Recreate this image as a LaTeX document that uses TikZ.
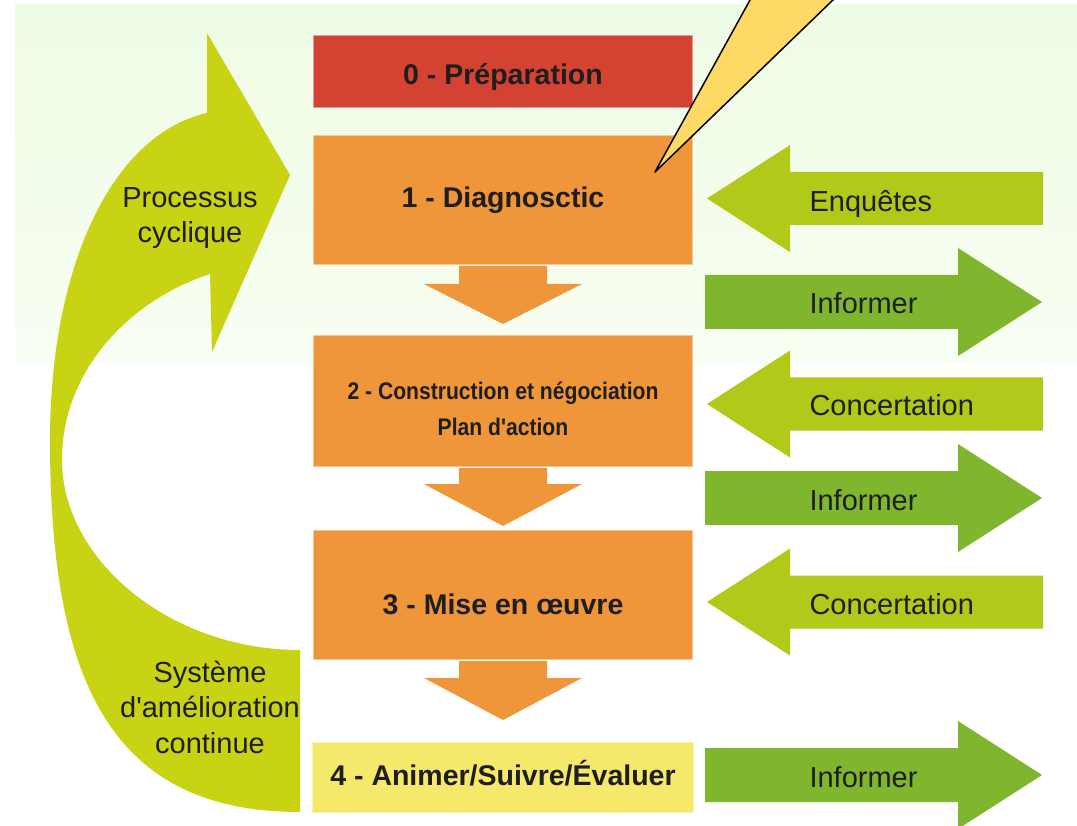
\documentclass[tikz,border=0pt]{standalone}
\usepackage{fontspec}
\setmainfont{Liberation Sans}
\newfontfamily\plainsf{Liberation Sans}
\newfontfamily\narrowsf[FakeStretch=0.88]{Liberation Sans}
\usetikzlibrary{shapes.geometric, arrows}

\definecolor{prepred}{HTML}{D44332}
\definecolor{steporange}{HTML}{F0963A}
\definecolor{evalyellow}{HTML}{F4E96A}
\definecolor{calloutyellow}{HTML}{FFD966}
\definecolor{cyclegreen}{HTML}{C8D314}
\definecolor{ingreen}{HTML}{B2C91A}
\definecolor{outgreen}{HTML}{80B52E}
\definecolor{bgtop}{HTML}{EEFCE4}
\definecolor{bgbottom}{HTML}{F8FEF3}
\definecolor{txt}{HTML}{1E1E1E}

\tikzstyle{block} = [rectangle, draw=white, draw opacity=0.45, line width=2pt,
    fill=steporange, text=txt, text centered, minimum width=380pt,
    font=\plainsf\bfseries\fontsize{28.5}{34}\selectfont]
\tikzstyle{down} = [fill=steporange]
\tikzstyle{inarrow} = [fill=ingreen]
\tikzstyle{outarrow} = [fill=outgreen]
\tikzstyle{armtext} = [anchor=base west, text=txt, font=\plainsf\fontsize{29}{35}\selectfont]
\tikzstyle{cycletext} = [align=center, text=txt, font=\plainsf\fontsize{29}{35.5}\selectfont]

\begin{document}
\begin{tikzpicture}[x=1pt, y=-1pt, node distance=128.5pt]

    \clip (0,0) rectangle (1077,826);
    \fill [white] (0,0) rectangle (1077,826);
    \shade [top color=bgtop, bottom color=bgbottom] (15,5) rectangle (1077,363);

    % cycle arrow on the left
    \fill [cyclegreen] (207,113) -- (207,33) -- (290,175) -- (212,352) -- (210,274)
        .. controls (130,300) and (62,370) .. (62,460)
        .. controls (62,560) and (170,650) .. (300,650)
        -- (300,812)
        .. controls (110,812) and (50,680) .. (50,440)
        .. controls (50,270) and (110,135) .. (207,113) -- cycle;

    \node [cycletext] (cyc) at (190,218) {Processus\\cyclique};
    \node [cycletext] (amel) at (210,707) {Système\\d'amélioration\\continue};

    % steps
    \node [block, fill=prepred, minimum height=73pt] (prep) at (503,71.5)
        {\raisebox{-6pt}[\height][\depth]{0 - Préparation}};
    \node [block, below of=prep, minimum height=130pt] (diag) {1 - Diagnosctic};
    \node [block, below of=diag, node distance=201pt, minimum height=132pt,
        font=\narrowsf\bfseries\fontsize{24}{36}\selectfont] (plan)
        {\raisebox{-9pt}[\height][\depth]{\begin{tabular}{@{}c@{}}2 - Construction et négociation\\Plan d'action\end{tabular}}};
    \node [block, below of=plan, node distance=194pt, minimum height=130pt] (impl)
        {\raisebox{-9pt}[\height][\depth]{3 - Mise en œuvre}};
    \node [block, below of=impl, node distance=182.5pt, fill=evalyellow,
        minimum width=382pt, minimum height=71pt] (eval)
        {\raisebox{4pt}[\height][\depth]{4 - Animer/Suivre/Évaluer}};

    \path [down] ([xshift=-44pt]diag.south) -- ++(0,18) -- ++(-35,0) -- ([yshift=-58pt]diag.south)
        -- ++(79,-40) -- ++(-35,0) -- ++(0,-18) -- cycle;
    \path [down] ([xshift=-44pt]plan.south) -- ++(0,16) -- ++(-35,0) -- ([yshift=-58pt]plan.south)
        -- ++(79,-42) -- ++(-35,0) -- ++(0,-16) -- cycle;
    \path [down] ([xshift=-44pt]impl.south) -- ++(0,17) -- ++(-35,0) -- ([yshift=-59pt]impl.south)
        -- ++(79,-42) -- ++(-35,0) -- ++(0,-17) -- cycle;

    % arrows on the right
    \path [inarrow] (707,198.5) -- (790,145) -- (790,172) -- (1043,172) -- (1043,225)
        -- (790,225) -- (790,252) -- cycle;
    \path [outarrow] (705,275) -- (958,275) -- (958,248) -- (1042,302) -- (958,356)
        -- (958,329) -- (705,329) -- cycle;
    \path [inarrow] (707,404) -- (790,350.5) -- (790,377.5) -- (1043,377.5) -- (1043,430.5)
        -- (790,430.5) -- (790,457.5) -- cycle;
    \path [outarrow] (705,471) -- (958,471) -- (958,444) -- (1042,498) -- (958,552)
        -- (958,525) -- (705,525) -- cycle;
    \path [inarrow] (707,602) -- (790,548.5) -- (790,575.5) -- (1043,575.5) -- (1043,628.5)
        -- (790,628.5) -- (790,655.5) -- cycle;
    \path [outarrow] (705,748) -- (958,748) -- (958,721) -- (1042,775) -- (958,829)
        -- (958,802) -- (705,802) -- cycle;

    \node [armtext] (enq) at (806,212) {Enquêtes};
    \node [armtext] (inf1) at (806,314) {Informer};
    \node [armtext] (conc1) at (806,416) {Concertation};
    \node [armtext] (inf2) at (806,510) {Informer};
    \node [armtext] (conc2) at (806,614) {Concertation};
    \node [armtext] (inf3) at (806,787) {Informer};

    % callout pointer
    \filldraw [fill=calloutyellow, draw=black, line width=1.5pt, line join=round]
        (655,172) -- (766.6,-30) -- (864,-30) -- cycle;

\end{tikzpicture}
\end{document}
